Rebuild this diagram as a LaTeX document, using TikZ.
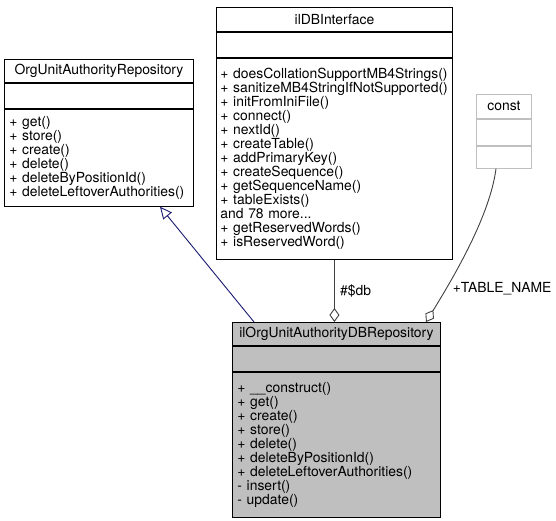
\documentclass[tikz,border=0pt]{standalone}
\usepackage{fontspec}
\setmainfont{TeX Gyre Heros}
\usetikzlibrary{arrows.meta}
\definecolor{inheritblue}{RGB}{25,25,112}
\definecolor{boxgray}{RGB}{191,191,191}

\begin{document}
\begin{tikzpicture}[x=1pt, y=-1pt, line width=0.9pt,
        every node/.style={font=\fontsize{13.9}{14}\selectfont},
        umlbox/.style={draw=black, inner sep=0pt},
        umlops/.style={umlbox, align=left, inner xsep=5pt, anchor=north,
            execute at begin node={\hyphenpenalty=10000\relax}},
        inherit/.style={draw=inheritblue, -{Triangle[open, length=12pt, width=11pt]}},
        aggr/.style={draw=black!75, {Diamond[open, length=14pt, width=10pt]}-}]
        \useasboundingbox (0,0) rectangle (556,521);
        % OrgUnitAuthorityRepository
        \node[umlbox, anchor=north west, minimum width=189pt, minimum height=23pt] (repo) at (4,59) {OrgUnitAuthorityRepository};
        \node[umlbox, anchor=north, minimum width=189pt, minimum height=25pt] (repo attr) at (repo.south) {};
        \node[umlops, text width=179pt, minimum height=97pt] (repo ops) at (repo attr.south) {+ get()\\+ store()\\+ create()\\+ delete()\\+ deleteByPositionId()\\+ deleteLeftoverAuthorities()};
        % ilDBInterface
        \node[umlbox, anchor=north west, minimum width=236pt, minimum height=24pt] (dbi) at (216,7) {ilDBInterface};
        \node[umlbox, anchor=north, minimum width=236pt, minimum height=25pt] (dbi attr) at (dbi.south) {};
        \node[umlops, inner xsep=4pt, text width=228pt, minimum height=201pt] (dbi ops) at (dbi attr.south) {+~doesCollationSupportMB4Strings()\\+~sanitizeMB4StringIfNotSupported()\\+ initFromIniFile()\\+ connect()\\+ nextId()\\+ createTable()\\+ addPrimaryKey()\\+ createSequence()\\+ getSequenceName()\\+ tableExists()\\and 78 more...\\+ getReservedWords()\\+ isReservedWord()};
        % const
        \node[umlbox, draw=boxgray, anchor=north west, minimum width=55pt, minimum height=24pt] (const) at (476,94) {const};
        \node[umlbox, draw=boxgray, anchor=north, minimum width=55pt, minimum height=26pt] (const attr) at (const.south) {};
        \node[umlbox, draw=boxgray, anchor=north, minimum width=55pt, minimum height=22pt] (const ops) at (const attr.south) {};
        % ilOrgUnitAuthorityDBRepository
        \node[umlbox, fill=boxgray, anchor=north west, minimum width=208pt, minimum height=23pt] (dbrepo) at (232,322) {ilOrgUnitAuthorityDBRepository};
        \node[umlbox, fill=boxgray, anchor=north, minimum width=208pt, minimum height=25pt] (dbrepo attr) at (dbrepo.south) {};
        \node[umlops, fill=boxgray, text width=198pt, minimum height=145pt] (dbrepo ops) at (dbrepo attr.south) {+ \_\_construct()\\+ get()\\+ create()\\+ store()\\+ delete()\\+ deleteByPositionId()\\+ deleteLeftoverAuthorities()\\- insert()\\- update()};

        \draw[inherit] ([xshift=22pt]dbrepo.north west) -- ([xshift=156pt]repo ops.south west);
        \draw[aggr] (dbrepo.north -| dbi ops.south) -- (dbi ops.south) node[midway, anchor=west, xshift=2pt] {\#\$db};
        \draw[aggr] ([xshift=194pt]dbrepo.north west) .. controls (455,275) and (490,215) .. ([xshift=20pt]const ops.south west);
        \node[anchor=west] (tablename) at (449,289) {+TABLE\_NAME};
\end{tikzpicture}
\end{document}
